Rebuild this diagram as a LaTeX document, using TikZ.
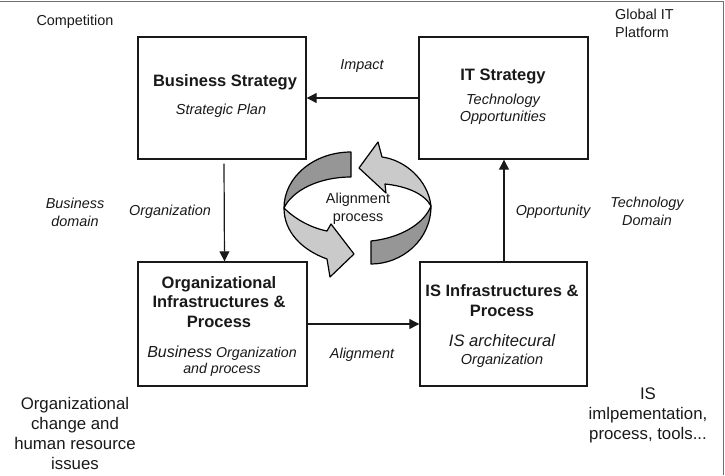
\documentclass[tikz,border=0pt]{standalone}
\usepackage{fontspec}
\setmainfont{Liberation Sans}
\usetikzlibrary{arrows.meta}
\definecolor{ringdark}{RGB}{150,150,150}
\definecolor{ringlight}{RGB}{202,202,202}
\definecolor{framegray}{RGB}{110,110,110}
\definecolor{ink}{RGB}{25,25,25}
\begin{document}
\begin{tikzpicture}[x=1pt,y=-1pt,
  boxframe/.style={draw=ink, line width=1.4pt, inner sep=0pt},
  title/.style={font=\fontsize{16.5}{19.5}\selectfont\bfseries, align=center, inner sep=0pt, text=ink},
  sub/.style={font=\fontsize{14.5}{17}\selectfont\itshape, align=center, inner sep=0pt, text=ink},
  lab/.style={font=\fontsize{14.4}{18}\selectfont\itshape, align=center, inner sep=0pt, text=ink},
  plain/.style={font=\fontsize{14.4}{18}\selectfont, align=center, inner sep=0pt, text=ink},
  big/.style={font=\fontsize{16.8}{20}\selectfont, align=center, inner sep=0pt, text=ink},
  conn/.style={draw=ink, line width=1.2pt, -{Triangle[length=10pt,width=10pt]}},
  ring/.style={draw=black, line width=1.2pt, line join=round}]
\useasboundingbox (0,0) rectangle (725,475);
% frame
\draw[framegray, line width=1pt] (0,1.5) -- (723,1.5) -- (723,475);

% boxes
\node[boxframe, minimum width=168pt, minimum height=122pt] (bs) at (222,98) {};
\node[boxframe, minimum width=169pt, minimum height=122pt] (it) at (503.5,98) {};
\node[boxframe, minimum width=169pt, minimum height=124pt] (org) at (222.5,324) {};
\node[boxframe, minimum width=167pt, minimum height=124pt] (is) at (503.5,324) {};

% box texts
\node[title] (bst) at (225,82) {Business Strategy};
\node[sub] (bss) at (221,111) {Strategic Plan};
\node[title] (itt) at (503,76) {IT Strategy};
\node[sub] (its) at (503,109) {Technology\\Opportunities};
\node[title] (orgt) at (219,302) {Organizational\\Infrastructures \&\\Process};
\node[sub, font=\fontsize{14.2}{16.5}\selectfont\itshape] (orgs) at (222,361) {{\fontsize{16}{16.5}\selectfont Business} Organization\\and process};
\node[title, font=\fontsize{16.5}{20}\selectfont\bfseries] (ist) at (502,301) {IS Infrastructures \&\\Process};
\node[sub, font=\fontsize{14.5}{18}\selectfont\itshape] (iss) at (502,351) {{\fontsize{16.6}{18}\selectfont IS architecural}\\Organization};

% connectors
\draw[conn] (it.west) -- (bs.east);
\draw[conn] ([shift={(2,4)}]bs.south) -- ([xshift=2pt]org.north);
\draw[conn] (org.east) -- (is.west);
\draw[conn] ([xshift=0.5pt]is.north) -- ([xshift=0.5pt]it.south);

% connector labels
\node[lab] (limpact) at (362,66) {Impact};
\node[lab] (lorg) at (170,212) {Organization};
\node[lab] (lalign) at (362,355) {Alignment};
\node[lab] (lopp) at (553,212) {Opportunity};

% side labels
\node[lab] (bdom) at (75,212) {Business\\domain};
\node[lab] (tdom) at (647,211) {Technology\\Domain};
\node[plain] (comp) at (75,22) {Competition};
\node[plain, align=left, anchor=west] (glob) at (615,23) {Global IT\\Platform};
\node[big] (ochange) at (75,433) {Organizational\\change and\\human resource\\issues};
\node[big] (isimpl) at (648,415) {IS\\imlpementation,\\process, tools...};

% alignment ring: back parts
\filldraw[ring, fill=ringdark] (351,152) .. controls (314,152) and (284,177) .. (284,208)
  .. controls (292,191) and (318,177) .. (351,177) -- cycle;
\filldraw[ring, fill=ringlight] (431,206) .. controls (428,180) and (405,160) .. (382,157)
  -- (378,142) -- (359,168) -- (386,193) -- (385,184)
  .. controls (405,186) and (424,193) .. (431,206) -- cycle;
% front parts
\filldraw[ring, fill=ringlight] (284,208) .. controls (296,220) and (312,228) .. (327,231)
  -- (331,224) -- (354,254) -- (330,277) -- (327,259)
  .. controls (302,250) and (284,232) .. (284,208) -- cycle;
\filldraw[ring, fill=ringdark] (371,241) -- (371,264) .. controls (402,264) and (431,240) .. (431,206)
  .. controls (424,224) and (400,238) .. (371,241) -- cycle;
\node[plain] (aproc) at (358,209) {Alignment\\process};
\end{tikzpicture}
\end{document}
